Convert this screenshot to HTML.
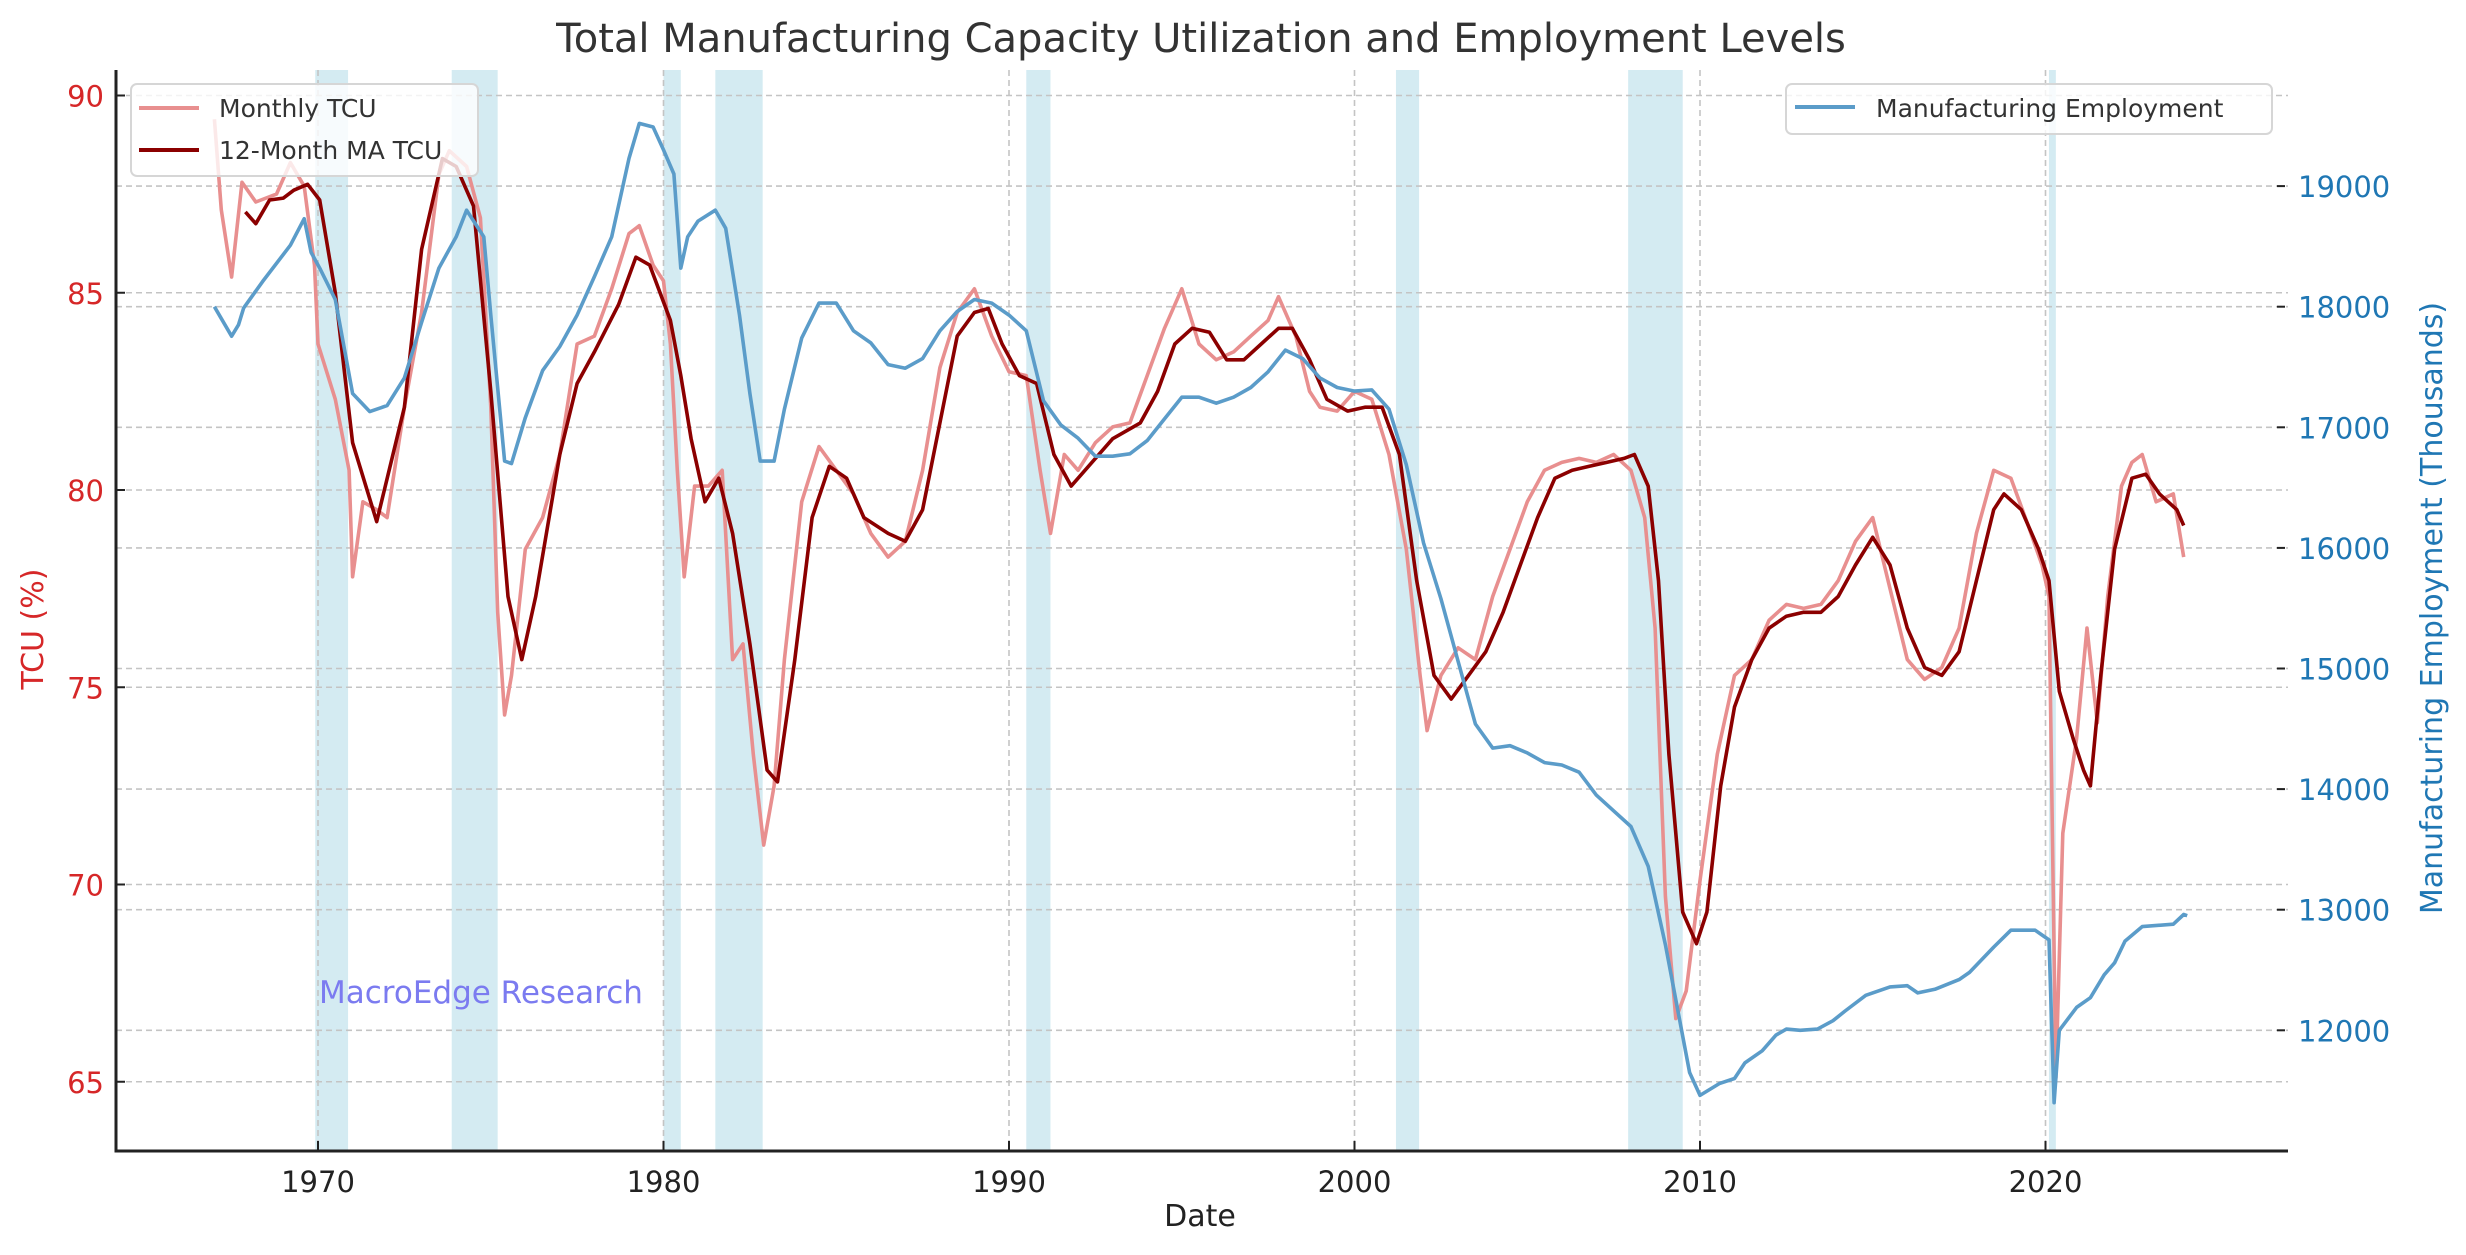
<!DOCTYPE html>
<html><head><meta charset="utf-8"><style>
html,body{margin:0;padding:0;background:#fff;}
svg{display:block;font-family:"DejaVu Sans","Liberation Sans",sans-serif;}
</style></head><body>
<svg id="chart" width="2466" height="1255" viewBox="0 0 2466 1255" xmlns="http://www.w3.org/2000/svg">
<rect x="0" y="0" width="2466" height="1255" fill="#fff"/>
<g id="bands"></g>
<g id="grid"></g>
<g id="series"></g>
<g id="axes"></g>
<text x="1201" y="52" text-anchor="middle" font-size="40" fill="#333">Total Manufacturing Capacity Utilization and Employment Levels</text>
<text x="1200" y="1226" text-anchor="middle" font-size="30" fill="#222">Date</text>
<text transform="translate(43,629) rotate(-90)" text-anchor="middle" font-size="30" fill="#d62728">TCU (%)</text>
<text transform="translate(2442,608) rotate(-90)" text-anchor="middle" font-size="30" fill="#1f77b4">Manufacturing Employment (Thousands)</text>
<text x="319" y="1003" font-size="31" fill="#7b7bf0">MacroEdge Research</text>
<g>
<rect x="131" y="84" width="347" height="92" rx="6" fill="#fff" fill-opacity="0.8" stroke="#d6d6d6" stroke-width="2"/>
<line x1="139" y1="108" x2="199" y2="108" stroke="#e88f8f" stroke-width="4"/>
<text x="219" y="117" font-size="25" fill="#333">Monthly TCU</text>
<line x1="139" y1="150" x2="199" y2="150" stroke="#8b0000" stroke-width="4"/>
<text x="219" y="159" font-size="25" fill="#333">12-Month MA TCU</text>
</g>
<g>
<rect x="1786" y="84" width="486" height="50" rx="6" fill="#fff" fill-opacity="0.8" stroke="#d6d6d6" stroke-width="2"/>
<line x1="1795" y1="107" x2="1855" y2="107" stroke="#5b9cc9" stroke-width="4"/>
<text x="1876" y="117" font-size="25" fill="#333">Manufacturing Employment</text>
</g>
</svg>
<script>
const ns="http://www.w3.org/2000/svg";
const recStart=[1969.92,1973.87,1980.0,1981.5,1990.5,2001.2,2007.92,2020.1];
const recEnd=[1970.87,1975.2,1980.5,1982.87,1991.2,2001.87,2009.5,2020.3];
const xTicks=[1970,1980,1990,2000,2010,2020];
const leftTicks=[65,70,75,80,85,90];
const rightTicks=[12000,13000,14000,15000,16000,17000,18000,19000];
const tcuYears=[1967.0,1967.2,1967.5,1967.8,1968.2,1968.8,1969.2,1969.6,1969.9,1970.0,1970.5,1970.9,1971.0,1971.3,1971.7,1972.0,1972.5,1973.0,1973.5,1973.8,1974.3,1974.7,1975.0,1975.2,1975.4,1975.6,1976.0,1976.5,1977.0,1977.5,1978.0,1978.5,1979.0,1979.3,1979.7,1980.0,1980.2,1980.4,1980.6,1980.9,1981.3,1981.7,1982.0,1982.3,1982.6,1982.9,1983.2,1983.5,1984.0,1984.5,1985.0,1985.5,1986.0,1986.5,1987.0,1987.5,1988.0,1988.5,1989.0,1989.5,1990.0,1990.5,1990.9,1991.2,1991.6,1992.0,1992.5,1993.0,1993.5,1994.0,1994.5,1995.0,1995.5,1996.0,1996.5,1997.0,1997.5,1997.8,1998.3,1998.7,1999.0,1999.5,2000.0,2000.5,2001.0,2001.5,2001.9,2002.1,2002.5,2003.0,2003.5,2004.0,2004.5,2005.0,2005.5,2006.0,2006.5,2007.0,2007.5,2008.0,2008.4,2008.7,2009.0,2009.3,2009.6,2010.0,2010.5,2011.0,2011.5,2012.0,2012.5,2013.0,2013.5,2014.0,2014.5,2015.0,2015.5,2016.0,2016.5,2017.0,2017.5,2018.0,2018.5,2019.0,2019.5,2019.9,2020.1,2020.3,2020.5,2020.9,2021.2,2021.5,2021.8,2022.2,2022.5,2022.8,2023.2,2023.7,2024.0];
const tcuValues=[89.4,87.1,85.4,87.8,87.3,87.5,88.3,87.7,85.7,83.7,82.3,80.5,77.8,79.7,79.5,79.3,82.1,84.5,88.0,88.6,88.2,86.9,82.1,76.9,74.3,75.3,78.5,79.3,80.9,83.7,83.9,85.1,86.5,86.7,85.7,85.3,83.7,80.5,77.8,80.1,80.1,80.5,75.7,76.1,73.3,71.0,72.5,75.7,79.7,81.1,80.5,79.9,78.9,78.3,78.7,80.5,83.1,84.5,85.1,83.9,83.0,82.9,80.5,78.9,80.9,80.5,81.2,81.6,81.7,82.9,84.1,85.1,83.7,83.3,83.5,83.9,84.3,84.9,83.9,82.5,82.1,82.0,82.5,82.3,80.9,78.5,75.3,73.9,75.3,76.0,75.7,77.3,78.5,79.7,80.5,80.7,80.8,80.7,80.9,80.5,79.3,76.5,69.7,66.6,67.3,70.1,73.3,75.3,75.7,76.7,77.1,77.0,77.1,77.7,78.7,79.3,77.5,75.7,75.2,75.5,76.5,78.9,80.5,80.3,79.1,78.1,77.3,65.1,71.3,73.7,76.5,74.1,77.3,80.1,80.7,80.9,79.7,79.9,78.3];
const maYears=[1967.9,1968.2,1968.6,1969.0,1969.3,1969.7,1970.05,1970.5,1971.0,1971.7,1972.5,1973.0,1973.6,1974.0,1974.5,1975.0,1975.5,1975.9,1976.3,1977.0,1977.5,1978.0,1978.7,1979.2,1979.6,1980.2,1980.5,1980.8,1981.2,1981.6,1982.0,1982.5,1983.0,1983.3,1983.8,1984.3,1984.8,1985.3,1985.8,1986.5,1987.0,1987.5,1988.0,1988.5,1989.0,1989.4,1989.8,1990.3,1990.8,1991.3,1991.8,1992.3,1993.0,1993.8,1994.3,1994.8,1995.3,1995.8,1996.3,1996.8,1997.3,1997.8,1998.2,1998.7,1999.2,1999.8,2000.3,2000.8,2001.3,2001.8,2002.3,2002.8,2003.3,2003.8,2004.3,2004.8,2005.3,2005.8,2006.3,2006.8,2007.3,2007.8,2008.1,2008.5,2008.8,2009.1,2009.5,2009.9,2010.2,2010.6,2011.0,2011.5,2012.0,2012.5,2013.0,2013.5,2014.0,2014.5,2015.0,2015.5,2016.0,2016.5,2017.0,2017.5,2018.0,2018.5,2018.8,2019.3,2019.8,2020.1,2020.4,2020.8,2021.1,2021.3,2021.6,2022.0,2022.5,2022.9,2023.3,2023.8,2024.0];
const maValues=[87.05,86.75,87.35,87.4,87.6,87.75,87.35,85.0,81.2,79.2,82.1,86.1,88.4,88.2,87.2,82.5,77.3,75.7,77.3,80.9,82.7,83.5,84.7,85.9,85.7,84.3,82.9,81.3,79.7,80.3,78.9,76.1,72.9,72.6,75.7,79.3,80.6,80.3,79.3,78.9,78.7,79.5,81.7,83.9,84.5,84.6,83.7,82.9,82.7,80.9,80.1,80.6,81.3,81.7,82.5,83.7,84.1,84.0,83.3,83.3,83.7,84.1,84.1,83.3,82.3,82.0,82.1,82.1,80.9,77.7,75.3,74.7,75.3,75.9,76.9,78.1,79.3,80.3,80.5,80.6,80.7,80.8,80.9,80.1,77.7,73.3,69.3,68.5,69.3,72.5,74.5,75.7,76.5,76.8,76.9,76.9,77.3,78.1,78.8,78.1,76.5,75.5,75.3,75.9,77.7,79.5,79.9,79.5,78.5,77.7,74.9,73.7,72.9,72.5,75.3,78.5,80.3,80.4,79.9,79.5,79.1];
const empYears=[1967.0,1967.5,1967.7,1967.85,1968.4,1969.2,1969.6,1969.8,1970.05,1970.5,1971.0,1971.5,1972.0,1972.5,1973.0,1973.5,1974.0,1974.3,1974.8,1975.0,1975.4,1975.6,1976.0,1976.5,1977.0,1977.5,1978.0,1978.5,1979.0,1979.3,1979.7,1980.0,1980.3,1980.5,1980.7,1981.0,1981.5,1981.8,1982.2,1982.5,1982.8,1983.2,1983.5,1984.0,1984.5,1985.0,1985.5,1986.0,1986.5,1987.0,1987.5,1988.0,1988.5,1989.0,1989.5,1990.0,1990.5,1991.0,1991.5,1992.0,1992.5,1993.0,1993.5,1994.0,1994.5,1995.0,1995.5,1996.0,1996.5,1997.0,1997.5,1998.0,1998.5,1999.0,1999.5,2000.0,2000.5,2001.0,2001.5,2002.0,2002.5,2003.0,2003.5,2004.0,2004.5,2005.0,2005.5,2006.0,2006.5,2007.0,2007.5,2008.0,2008.5,2009.0,2009.4,2009.7,2010.0,2010.57,2011.0,2011.3,2011.8,2012.2,2012.5,2012.9,2013.4,2013.85,2014.2,2014.8,2015.5,2016.0,2016.3,2016.8,2017.5,2017.8,2018.5,2019.0,2019.7,2019.9,2020.1,2020.25,2020.4,2020.9,2021.3,2021.7,2022.0,2022.3,2022.8,2023.7,2024.0,2024.1];
const empValues=[18000,17755,17850,17990,18210,18510,18730,18450,18320,18060,17280,17130,17180,17410,17870,18320,18580,18800,18580,17930,16720,16700,17080,17470,17670,17930,18250,18580,19230,19520,19490,19300,19100,18320,18580,18710,18800,18650,17930,17280,16720,16720,17150,17740,18030,18030,17800,17700,17520,17490,17570,17800,17960,18060,18030,17930,17800,17220,17020,16910,16760,16760,16780,16890,17070,17250,17250,17200,17250,17330,17460,17640,17570,17410,17330,17300,17310,17150,16690,16040,15580,15060,14540,14340,14360,14300,14220,14200,14140,13950,13820,13690,13360,12710,12100,11650,11460,11560,11600,11730,11830,11960,12010,12000,12010,12080,12160,12290,12360,12370,12310,12340,12420,12480,12690,12830,12830,12790,12750,11400,12000,12190,12270,12460,12560,12740,12860,12880,12960,12950];

const PL=116,PR=2288,PT=70,PB=1151;
function xs(yr){return 318+(yr-1970)*34.55;}
function yl(v){return 95.5+(90-v)*39.45;}
function yr(v){return 909.7-(v-13000)*0.1206;}
function mk(tag,attrs,parent){const e=document.createElementNS(ns,tag);for(const k in attrs)e.setAttribute(k,attrs[k]);parent.appendChild(e);return e;}
const bands=document.getElementById('bands'),grid=document.getElementById('grid'),series=document.getElementById('series'),axes=document.getElementById('axes');
recStart.forEach((s,i)=>{
  const r=mk('rect',{x:xs(s),y:PT,width:xs(recEnd[i])-xs(s),height:PB-PT,fill:'#add8e6','fill-opacity':0.52},bands);
  
  
});
const gs={stroke:'#c4c4c4','stroke-width':1.6,'stroke-dasharray':'6,4'};
xTicks.forEach(t=>{const l=mk('line',Object.assign({x1:xs(t),x2:xs(t),y1:PT,y2:PB},gs),grid);
  
  });
leftTicks.forEach(t=>{const l=mk('line',Object.assign({x1:PL,x2:PR,y1:yl(t),y2:yl(t)},gs),grid);
  
  });
rightTicks.forEach(t=>{const l=mk('line',Object.assign({x1:PL,x2:PR,y1:yr(t),y2:yr(t)},gs),grid);
  
  });
function path(xv,yv,fy,color,name){
  const d=xv.map((x,i)=>(i?'L':'M')+xs(x).toFixed(1)+','+fy(yv[i]).toFixed(1)).join('');
  const p=mk('path',{d:d,fill:'none',stroke:color,'stroke-width':3.6,'stroke-linejoin':'round'},series);
  
  
}
path(tcuYears,tcuValues,yl,'#e88f8f','monthly-tcu-line');
path(maYears,maValues,yl,'#8b0000','ma-tcu-line');
path(empYears,empValues,yr,'#5b9cc9','employment-line');
// spines
const sl=mk('line',{x1:PL,x2:PL,y1:PT,y2:PB+1.5,stroke:'#222','stroke-width':3},axes);


const sb=mk('line',{x1:PL-1.5,x2:PR,y1:PB,y2:PB,stroke:'#222','stroke-width':3},axes);


xTicks.forEach(t=>{
  mk('line',{x1:xs(t),x2:xs(t),y1:PB,y2:PB-10,stroke:'#222','stroke-width':2},axes);
  const tx=mk('text',{x:xs(t),y:PB+41,'text-anchor':'middle','font-size':29,fill:'#222'},axes);
  tx.textContent=t;
  
  
});
leftTicks.forEach(t=>{
  mk('line',{x1:PL,x2:PL+9,y1:yl(t),y2:yl(t),stroke:'#222','stroke-width':2},axes);
  const tx=mk('text',{x:104,y:yl(t)+11,'text-anchor':'end','font-size':29,fill:'#d62728'},axes);
  tx.textContent=t;
  
  
});
rightTicks.forEach(t=>{
  mk('line',{x1:PR-11,x2:PR-3,y1:yr(t),y2:yr(t),stroke:'#222','stroke-width':2},axes);
  const tx=mk('text',{x:2298,y:yr(t)+11,'font-size':29,fill:'#1f77b4'},axes);
  tx.textContent=t;
  
  
});
</script>
</body></html>
